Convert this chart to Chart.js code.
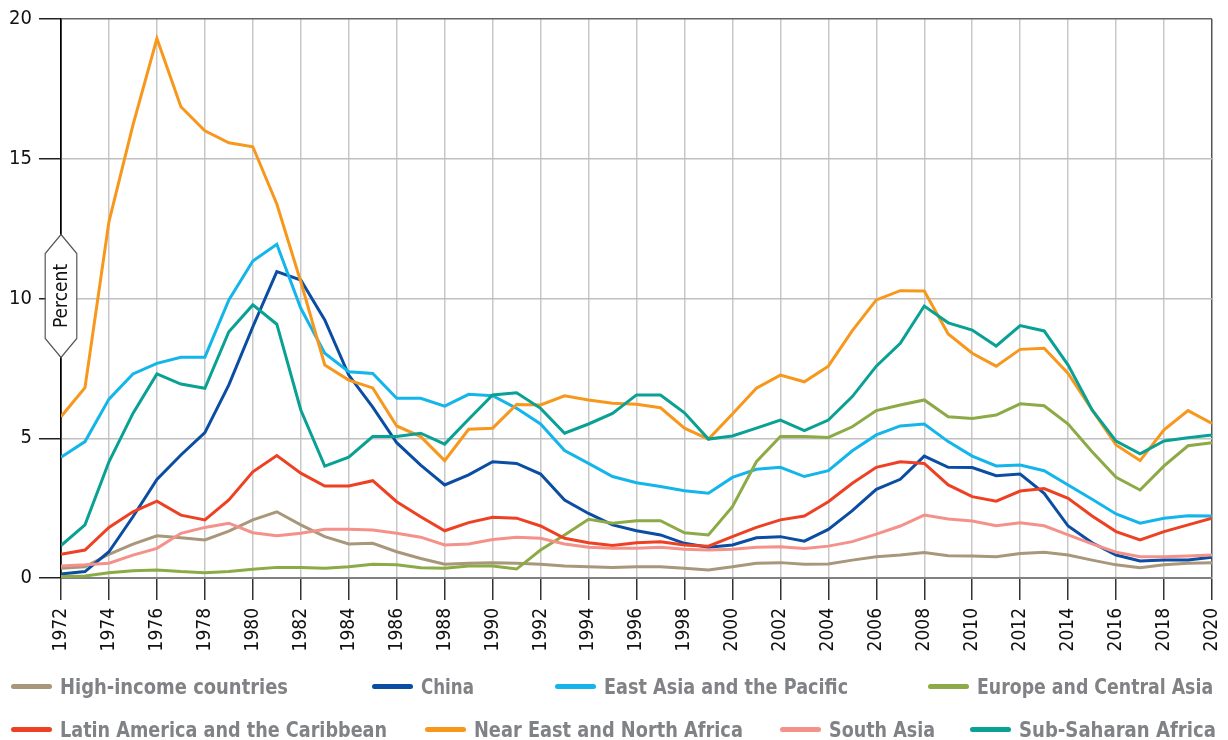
<!DOCTYPE html>
<html>
<head>
<meta charset="utf-8">
<script src="https://cdn.jsdelivr.net/npm/chart.js@4.4.1/dist/chart.umd.min.js"></script>
<style>
html,body{margin:0;padding:0;background:#fff;}
#wrap{position:relative;width:1228px;height:740px;overflow:hidden;}
#c{position:absolute;left:0;top:0;}
.lg{position:absolute;height:30px;display:flex;align-items:center;font-family:'DejaVu Sans Condensed','Liberation Sans Narrow','Arial Narrow',sans-serif;font-weight:bold;font-size:22px;color:#808285;white-space:nowrap;}
.lg i{display:inline-block;flex:none;width:41px;height:5px;border-radius:3px;margin-right:8px;}
.lg span{display:inline-block;transform-origin:0 50%;}
</style>
</head>
<body>
<div id="wrap">
<canvas id="c" width="1228" height="740"></canvas>
<div id="legend"></div>
</div>
<script>
const years = [1972,1973,1974,1975,1976,1977,1978,1979,1980,1981,1982,1983,1984,1985,1986,1987,1988,1989,1990,1991,1992,1993,1994,1995,1996,1997,1998,1999,2000,2001,2002,2003,2004,2005,2006,2007,2008,2009,2010,2011,2012,2013,2014,2015,2016,2017,2018,2019,2020];

const highIncome = [0.35,0.40,0.85,1.21,1.51,1.44,1.36,1.68,2.08,2.37, 1.90,1.48,1.22,1.24,0.94,0.70,0.49,0.53,0.55,0.53, 0.49,0.43,0.40,0.38,0.40,0.40,0.35,0.29,0.40,0.53, 0.55,0.49,0.50,0.64,0.76,0.82,0.91,0.80,0.79,0.76, 0.88,0.92,0.82,0.64,0.47,0.37,0.47,0.53,0.55];
const china = [0.14,0.23,0.94,2.19,3.53,4.40,5.20,6.91,8.99,10.96, 10.66,9.23,7.26,6.11,4.84,4.04,3.33,3.69,4.16,4.10, 3.72,2.79,2.31,1.90,1.69,1.54,1.24,1.10,1.18,1.44, 1.48,1.32,1.74,2.41,3.17,3.53,4.36,3.96,3.95,3.66, 3.72,3.03,1.86,1.26,0.82,0.61,0.64,0.64,0.74];
const eastAsiaPacific = [4.32,4.88,6.40,7.30,7.68,7.90,7.90,9.95,11.34,11.94, 9.65,8.04,7.38,7.32,6.43,6.43,6.15,6.57,6.52,6.07, 5.51,4.56,4.10,3.63,3.41,3.27,3.12,3.03,3.60,3.89, 3.96,3.63,3.84,4.55,5.12,5.44,5.51,4.88,4.36,4.01, 4.04,3.84,3.33,2.82,2.29,1.96,2.14,2.23,2.22];
const europeCentralAsia = [0.05,0.07,0.19,0.26,0.29,0.23,0.19,0.23,0.31,0.38, 0.38,0.35,0.40,0.49,0.47,0.37,0.35,0.43,0.43,0.32, 1.00,1.54,2.10,1.96,2.05,2.05,1.62,1.54,2.55,4.16, 5.06,5.06,5.03,5.41,5.99,6.19,6.37,5.77,5.71,5.83, 6.23,6.16,5.51,4.52,3.60,3.15,4.01,4.73,4.84];
const latinAmerica = [0.85,1.00,1.81,2.37,2.75,2.25,2.08,2.79,3.80,4.38, 3.75,3.29,3.29,3.48,2.73,2.19,1.69,1.98,2.17,2.14, 1.86,1.42,1.26,1.16,1.26,1.30,1.18,1.14,1.48,1.81, 2.08,2.22,2.73,3.39,3.96,4.16,4.10,3.33,2.91,2.75, 3.11,3.20,2.85,2.22,1.66,1.36,1.66,1.90,2.14];
const nearEastNorthAfrica = [5.77,6.81,12.75,16.2,19.3,16.86,16.0,15.57,15.43,13.38, 10.6,7.62,7.08,6.80,5.44,5.06,4.20,5.32,5.36,6.21, 6.19,6.52,6.37,6.25,6.22,6.09,5.36,4.97,5.87,6.79, 7.26,7.02,7.58,8.85,9.95,10.28,10.27,8.73,8.04,7.58, 8.18,8.22,7.32,6.01,4.76,4.20,5.30,5.99,5.53];
const southAsia = [0.43,0.47,0.53,0.82,1.06,1.60,1.81,1.96,1.62,1.51, 1.60,1.74,1.74,1.72,1.60,1.46,1.18,1.22,1.38,1.46, 1.42,1.22,1.10,1.06,1.06,1.10,1.03,1.00,1.03,1.10, 1.12,1.06,1.14,1.30,1.57,1.86,2.25,2.11,2.04,1.87, 1.98,1.87,1.54,1.22,0.92,0.76,0.76,0.79,0.82];
const subSaharanAfrica = [1.16,1.90,4.16,5.89,7.30,6.94,6.79,8.81,9.77,9.08, 6.01,4.00,4.32,5.06,5.06,5.18,4.79,5.68,6.55,6.63, 6.07,5.18,5.51,5.89,6.55,6.55,5.91,4.97,5.08,5.36, 5.65,5.27,5.65,6.49,7.58,8.40,9.73,9.13,8.87,8.30, 9.03,8.84,7.62,6.01,4.90,4.44,4.90,5.02,5.12];

const seriesNames = ['High-income countries','China','East Asia and the Pacific','Europe and Central Asia','Latin America and the Caribbean','Near East and North Africa','South Asia','Sub-Saharan Africa'];
const seriesValues = [highIncome, china, eastAsiaPacific, europeCentralAsia, latinAmerica, nearEastNorthAfrica, southAsia, subSaharanAfrica];
const seriesColors = ['#A8977A','#0A4DA2','#13B5EA','#8CAA45','#EE4123','#F7981D','#F4918A','#08A193'];
const yTicks = [0,5,10,15,20];

const F = "'DejaVu Sans Condensed','Liberation Sans Narrow','Arial Narrow',sans-serif";

const datasets = seriesNames.map((name,i)=>({
  label: name,
  data: years.map((yr,j)=>({x:yr, y:seriesValues[i][j]})),
  borderColor: seriesColors[i],
  backgroundColor: seriesColors[i],
  borderWidth: 3,
  pointRadius: 0,
  tension: 0,
  fill: false,
  order: seriesNames.length - i
}));

const percentLabel = {
  id:'percentLabel',
  afterDraw(chart){
    const ctx = chart.ctx, ys = chart.scales.y;
    const cx = chart.chartArea.left;
    const cy = ys.getPixelForValue(10) - 2.5;
    const hw = 15.8, hb = 42.5, ha = 61.5;
    ctx.save();
    ctx.beginPath();
    ctx.moveTo(cx, cy-ha); ctx.lineTo(cx+hw, cy-hb); ctx.lineTo(cx+hw, cy+hb);
    ctx.lineTo(cx, cy+ha); ctx.lineTo(cx-hw, cy+hb); ctx.lineTo(cx-hw, cy-hb); ctx.closePath();
    ctx.fillStyle = '#fff'; ctx.fill();
    ctx.strokeStyle = '#555'; ctx.lineWidth = 1.2; ctx.stroke();
    ctx.translate(cx+1, cy); ctx.rotate(-Math.PI/2);
    ctx.fillStyle = '#111'; ctx.font = '19px ' + F;
    ctx.textAlign = 'center'; ctx.textBaseline = 'middle';
    ctx.fillText('Percent', 0, 0);
    ctx.restore();
  }
};

new Chart(document.getElementById('c'), {
  type: 'line',
  data: { datasets },
  plugins: [percentLabel],
  options: {
    responsive: false,
    animation: false,
    layout: { padding: { left: 0, right: 16, top: 19, bottom: 80 } },
    plugins: { legend: { display: false }, tooltip: { enabled: false } },
    scales: {
      x: {
        type: 'linear', min: 1972, max: 2020,
        ticks: { stepSize: 2, autoSkip: false, maxRotation: 90, minRotation: 90, padding: 8, color: '#111',
                 font: { family: F, size: 19 }, callback: v => String(v) },
        grid: {
          color: c => (c.tick && c.tick.value === 2020) ? '#555' : (c.tick && c.tick.value === 1972 ? '#000' : '#c8c8c8'),
          lineWidth: 1.5, tickLength: 22, tickColor: '#333'
        },
        border: { color: '#808080', width: 2 },
        afterFit: s => { s.height = 82; s.paddingLeft = 0; s.paddingRight = 0; }
      },
      y: {
        min: 0, max: 20,
        afterBuildTicks: s => { s.ticks = yTicks.map(v => ({ value: v })); },
        ticks: { padding: 7, color: '#111', font: { family: F, size: 20 } },
        grid: {
          color: c => (c.tick && c.tick.value === 20) ? '#666' : (c.tick && c.tick.value === 0 ? '#808080' : '#c0c0c0'),
          lineWidth: 1.5, tickLength: 22, tickColor: '#222'
        },
        border: { color: '#000', width: 1.5 },
        afterFit: s => { s.width = 61; s.paddingTop = 0; s.paddingBottom = 0; }
      }
    }
  }
});

const legendPos = [
  [11,686],[372,686],[555,686],[928,686],
  [11,729],[425,729],[780,729],[970,729]
];
const legendTextWidth = [228,53,244,236,327,269,106,197];
const lg = document.getElementById('legend');
seriesNames.forEach((n,i)=>{
  const d = document.createElement('div');
  d.className = 'lg';
  d.style.left = legendPos[i][0] + 'px';
  d.style.top = (legendPos[i][1] - 15) + 'px';
  const sw = document.createElement('i');
  sw.style.background = seriesColors[i];
  d.appendChild(sw);
  const t = document.createElement('span');
  t.textContent = n;
  d.appendChild(t);
  lg.appendChild(d);
  const w = t.getBoundingClientRect().width;
  if (w > 0) t.style.transform = 'scaleX(' + (legendTextWidth[i] / w).toFixed(3) + ')';
});
</script>
</body>
</html>
